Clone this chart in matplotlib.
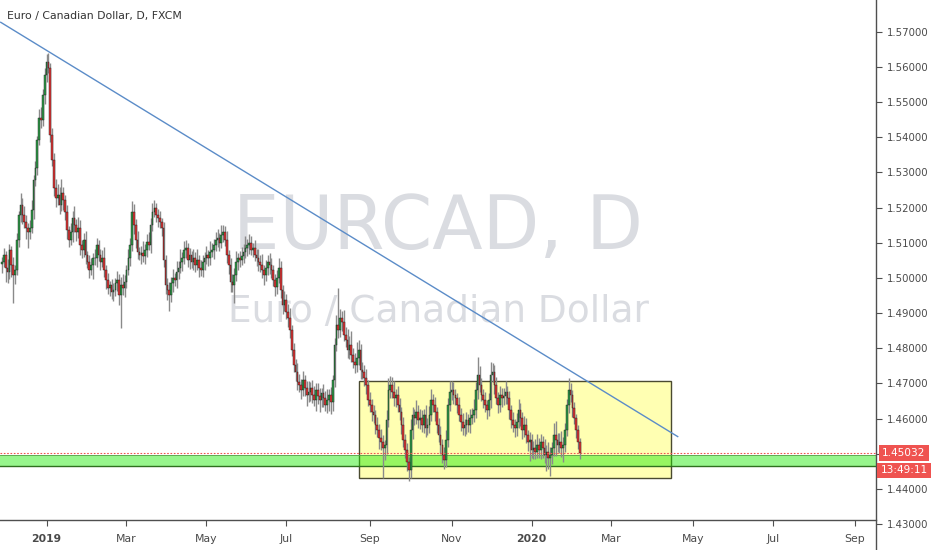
import numpy as np
import pandas as pd
import matplotlib
matplotlib.use("Agg")
import matplotlib.pyplot as plt
from matplotlib.patches import Rectangle
import matplotlib.transforms as mtransforms

# ---------------- data ----------------
start_date = "2018-11-28"
first_open = 1.5040
closes = [
    1.5046, 1.5065, 1.5028, 1.5017, 1.5080, 1.5037, 1.5009, 1.5023, 1.5108, 1.5179,
    1.5208, 1.5179, 1.5159, 1.5142, 1.5131, 1.5142, 1.5193, 1.5279, 1.5313, 1.5392,
    1.5455, 1.5449, 1.5520, 1.5577, 1.5614, 1.5597, 1.5407, 1.5336, 1.5256, 1.5227,
    1.5236, 1.5208, 1.5242, 1.5222, 1.5188, 1.5137, 1.5108, 1.5131, 1.5171, 1.5151,
    1.5131, 1.5142, 1.5094, 1.5080, 1.5108, 1.5065, 1.5046, 1.5023, 1.5037, 1.5057,
    1.5057, 1.5094, 1.5065, 1.5046, 1.5057, 1.5023, 1.4994, 1.4972, 1.4980, 1.4960,
    1.4966, 1.4986, 1.4994, 1.4952, 1.4980, 1.4972, 1.4989, 1.5023, 1.5057, 1.5094,
    1.5188, 1.5151, 1.5108, 1.5074, 1.5065, 1.5071, 1.5063, 1.5080, 1.5102, 1.5094,
    1.5151, 1.5188, 1.5199, 1.5179, 1.5171, 1.5159, 1.5142, 1.5051, 1.4980, 1.4966,
    1.4952, 1.4986, 1.5000, 1.4994, 1.5017, 1.5028, 1.5046, 1.5057, 1.5080, 1.5085,
    1.5051, 1.5065, 1.5046, 1.5057, 1.5037, 1.5051, 1.5028, 1.5023, 1.5046, 1.5057,
    1.5065, 1.5057, 1.5074, 1.5080, 1.5094, 1.5108, 1.5114, 1.5100, 1.5122, 1.5131,
    1.5108, 1.5065, 1.5037, 1.4989, 1.4980, 1.5009, 1.5046, 1.5057, 1.5051, 1.5063,
    1.5074, 1.5085, 1.5094, 1.5100, 1.5080, 1.5085, 1.5065, 1.5057, 1.5046, 1.5037,
    1.5023, 1.5009, 1.5028, 1.5046, 1.5037, 1.5023, 1.4994, 1.4974, 1.5000, 1.5028,
    1.4966, 1.4923, 1.4937, 1.4903, 1.4886, 1.4852, 1.4795, 1.4753, 1.4733, 1.4704,
    1.4696, 1.4682, 1.4710, 1.4687, 1.4667, 1.4676, 1.4687, 1.4667, 1.4653, 1.4682,
    1.4665, 1.4653, 1.4673, 1.4659, 1.4639, 1.4653, 1.4667, 1.4647, 1.4710, 1.4809,
    1.4866, 1.4852, 1.4886, 1.4875, 1.4838, 1.4824, 1.4795, 1.4809, 1.4781, 1.4761,
    1.4753, 1.4772, 1.4795, 1.4738, 1.4733, 1.4716, 1.4696, 1.4653, 1.4639, 1.4619,
    1.4610, 1.4582, 1.4568, 1.4545, 1.4534, 1.4517, 1.4525, 1.4596, 1.4682, 1.4696,
    1.4676, 1.4659, 1.4667, 1.4639, 1.4619, 1.4582, 1.4539, 1.4511, 1.4477, 1.4454,
    1.4568, 1.4610, 1.4602, 1.4619, 1.4596, 1.4602, 1.4582, 1.4610, 1.4574, 1.4582,
    1.4610, 1.4653, 1.4639, 1.4619, 1.4582, 1.4554, 1.4525, 1.4497, 1.4483, 1.4539,
    1.4639, 1.4676, 1.4682, 1.4667, 1.4659, 1.4639, 1.4610, 1.4591, 1.4574, 1.4582,
    1.4596, 1.4582, 1.4602, 1.4610, 1.4625, 1.4682, 1.4724, 1.4696, 1.4667, 1.4653,
    1.4639, 1.4625, 1.4653, 1.4724, 1.4733, 1.4696, 1.4659, 1.4639, 1.4667, 1.4659,
    1.4665, 1.4676, 1.4659, 1.4625, 1.4596, 1.4582, 1.4574, 1.4591, 1.4625, 1.4602,
    1.4568, 1.4582, 1.4554, 1.4534, 1.4539, 1.4511, 1.4517, 1.4505, 1.4525, 1.4511,
    1.4534, 1.4517, 1.4497, 1.4505, 1.4488, 1.4497, 1.4517, 1.4554, 1.4539, 1.4525,
    1.4534, 1.4517, 1.4525, 1.4568, 1.4639, 1.4682, 1.4667, 1.4630, 1.4602, 1.4568,
    1.4534, 1.45032,
]
upper_wick_pips = [
    15, 20, 12, 25, 18, 10, 22, 15, 20, 12,
    35, 18, 25, 20, 15, 22, 30, 15, 20, 12,
    25, 30, 18, 20, 22, 25, 15, 20, 18, 25,
    30, 22, 40, 18, 15, 20, 12, 25, 20, 35,
    18, 30, 22, 15, 20, 25, 12, 18, 20, 15,
    25, 20, 15, 18, 22, 30, 15, 20, 12, 18,
    20, 15, 25, 18, 22, 30, 20, 15, 25, 20,
    30, 22, 18, 25, 15, 20, 35, 18, 22, 30,
    20, 25, 22, 15, 18, 20, 12, 18, 15, 20,
    22, 18, 25, 15, 30, 20, 35, 18, 25, 22,
    15, 20, 12, 25, 18, 30, 15, 22, 20, 18,
    25, 15, 30, 20, 18, 22, 25, 15, 30, 20,
    18, 25, 15, 20, 22, 18, 30, 15, 20, 25,
    22, 35, 18, 25, 20, 15, 22, 18, 25, 20,
    30, 15, 22, 18, 25, 20, 15, 18, 22, 30,
    20, 15, 25, 18, 22, 30, 15, 20, 18, 25,
    22, 18, 25, 15, 20, 30, 18, 22, 25, 20,
    18, 22, 15, 25, 20, 30, 18, 22, 15, 20,
    30, 105, 25, 20, 35, 22, 30, 25, 40, 20,
    25, 45, 30, 18, 22, 20, 25, 15, 22, 18,
    20, 15, 22, 18, 25, 20, 15, 30, 35, 25,
    22, 30, 18, 25, 20, 15, 22, 18, 20, 15,
    30, 22, 18, 35, 20, 25, 22, 18, 30, 20,
    25, 30, 18, 22, 15, 20, 25, 18, 22, 30,
    20, 30, 25, 22, 18, 15, 22, 20, 25, 18,
    22, 18, 25, 20, 30, 22, 50, 25, 20, 18,
    22, 15, 20, 37, 25, 20, 22, 18, 25, 20,
    22, 30, 18, 20, 15, 22, 18, 25, 30, 20,
    18, 25, 20, 15, 22, 18, 20, 25, 30, 20,
    22, 18, 25, 20, 30, 22, 18, 35, 40, 20,
    25, 30, 22, 20, 18, 35, 20, 15, 18, 12,
    15, 10,
]
lower_wick_pips = [
    25, 15, 40, 30, 20, 35, 80, 25, 15, 20,
    20, 25, 18, 30, 45, 20, 15, 25, 18, 20,
    15, 22, 18, 25, 20, 15, 20, 18, 22, 25,
    20, 25, 18, 30, 22, 25, 20, 15, 28, 20,
    25, 18, 30, 22, 20, 25, 18, 22, 15, 40,
    20, 25, 18, 22, 15, 20, 25, 18, 22, 20,
    25, 18, 22, 30, 95, 20, 25, 18, 15, 22,
    18, 25, 22, 20, 15, 25, 18, 22, 20, 15,
    22, 18, 15, 20, 25, 18, 22, 20, 25, 30,
    45, 20, 25, 18, 22, 20, 15, 25, 18, 22,
    20, 25, 18, 22, 20, 15, 25, 18, 20, 22,
    18, 22, 20, 15, 25, 18, 20, 22, 15, 20,
    18, 22, 25, 30, 20, 50, 18, 22, 20, 15,
    20, 18, 22, 25, 15, 20, 18, 22, 25, 20,
    22, 30, 18, 20, 25, 22, 18, 25, 20, 15,
    22, 25, 18, 20, 25, 22, 18, 20, 25, 22,
    20, 25, 18, 22, 30, 20, 25, 22, 18, 30,
    22, 35, 20, 25, 18, 22, 30, 35, 25, 20,
    18, 22, 20, 25, 18, 20, 22, 25, 20, 18,
    22, 20, 18, 25, 20, 22, 25, 18, 20, 25,
    22, 25, 20, 30, 22, 85, 35, 25, 20, 22,
    18, 22, 25, 20, 22, 25, 20, 22, 25, 30,
    22, 25, 20, 18, 22, 25, 20, 22, 25, 20,
    22, 18, 20, 25, 22, 20, 25, 22, 25, 20,
    20, 18, 22, 25, 20, 22, 18, 25, 20, 22,
    25, 20, 22, 18, 20, 22, 25, 20, 18, 22,
    20, 25, 18, 22, 20, 25, 18, 22, 20, 25,
    20, 22, 18, 25, 22, 20, 25, 22, 18, 22,
    25, 20, 22, 25, 55, 22, 25, 20, 18, 22,
    25, 30, 22, 45, 30, 50, 25, 22, 45, 20,
    22, 25, 40, 20, 18, 22, 20, 25, 18, 22,
    20, 18,
]

trend_dates = ["2018-11-27", "2020-04-21"]
trend_prices = [1.5728, 1.4548]
box_dates = ["2019-08-23", "2020-04-15"]
box_prices = [1.4431, 1.4707]
zone_prices = [1.4465, 1.4496]
last_price = 1.45032
countdown = "13:49:11"
price_ticks = [1.43, 1.44, 1.45, 1.46, 1.47, 1.48, 1.49, 1.50,
               1.51, 1.52, 1.53, 1.54, 1.55, 1.56, 1.57]
month_ticks = ["2019-01-01", "2019-03-01", "2019-05-01", "2019-07-01",
               "2019-09-01", "2019-11-01", "2020-01-01", "2020-03-01",
               "2020-05-01", "2020-07-01", "2020-09-01"]
month_labels = ["2019", "Mar", "May", "Jul", "Sep", "Nov",
                "2020", "Mar", "May", "Jul", "Sep"]
title = "Euro / Canadian Dollar, D, FXCM"
wm_big = "EURCAD, D"
wm_small = "Euro / Canadian Dollar"

# ---------------- layout ----------------
W, H = 932, 550
PX_PER_BAR = 1.858
plot_right = 876
plot_bottom = 520
y_top_price = 1.57904
px_per_price = 3517.0

days = pd.bdate_range("2018-11-26", periods=520)


def xpos(d):
    return int(days.searchsorted(pd.Timestamp(d)))


fig = plt.figure(figsize=(W / 100, H / 100), dpi=100)
fig.patch.set_facecolor("white")
ax = fig.add_axes([0, (H - plot_bottom) / H, plot_right / W, plot_bottom / H])
ax.set_facecolor("white")

i0 = xpos(start_date)
n = len(closes)
xs = np.arange(i0, i0 + n)
c = np.array(closes)
o = np.concatenate([[first_open], c[:-1]])
hi = np.maximum(o, c) + np.array(upper_wick_pips) * 1e-4
lo = np.minimum(o, c) - np.array(lower_wick_pips) * 1e-4

ax.set_xlim(i0 - 2 / PX_PER_BAR, i0 + (plot_right - 2) / PX_PER_BAR)
ax.set_ylim(y_top_price - plot_bottom / px_per_price, y_top_price)

# watermark
wm_color = "#dadce1"
ax.text(0.5, 0.5615, wm_big, transform=ax.transAxes, ha="center", va="center",
        fontsize=53, color=wm_color, zorder=0, family="DejaVu Sans")
ax.text(0.5, 0.40, wm_small, transform=ax.transAxes, ha="center", va="center",
        fontsize=27, color=wm_color, zorder=0, family="DejaVu Sans")

# yellow box
bx0, bx1 = xpos(box_dates[0]), xpos(box_dates[1])
ax.add_patch(Rectangle((bx0, box_prices[0]), bx1 - bx0, box_prices[1] - box_prices[0],
                       facecolor=(1.0, 1.0, 0.0, 0.30), edgecolor="#4a4a30",
                       linewidth=1.0, zorder=1))
# green zone
ax.axhspan(zone_prices[0], zone_prices[1], facecolor=(0.1, 0.92, 0.0, 0.45),
           edgecolor="none", zorder=2)
ax.axhline(zone_prices[0], color="#2f6f1f", lw=1.0, zorder=2)
ax.axhline(zone_prices[1], color="#58a048", lw=0.6, zorder=2)

# candles
up = c >= o
ax.vlines(xs, lo, hi, color="#8a8a8a", lw=1.0, zorder=3)
body_h = np.maximum(np.abs(c - o), 0.00006)
ax.bar(xs[up], body_h[up], bottom=np.minimum(o, c)[up], width=0.9,
       color="#2f9a48", edgecolor="#1a1a1a", linewidth=0.3, zorder=4)
ax.bar(xs[~up], body_h[~up], bottom=np.minimum(o, c)[~up], width=0.9,
       color="#e03535", edgecolor="#1a1a1a", linewidth=0.3, zorder=4)

# current price line
ax.axhline(last_price, color="#ef5350", lw=0.8, ls=(0, (1.5, 1.5)), zorder=5)

# trend line
ax.plot([xpos(d) for d in trend_dates], trend_prices, color="#5b8cc8",
        lw=1.0, zorder=6, solid_capstyle="butt")

# title
ax.text(7 / plot_right, 1 - 16 / plot_bottom, title, transform=ax.transAxes,
        ha="left", va="center", fontsize=7.8, color="#333333", zorder=7)

# bottom axis
for s in ["top", "left", "right"]:
    ax.spines[s].set_visible(False)
ax.spines["bottom"].set_color("#4f4f4f")
ax.spines["bottom"].set_linewidth(1.0)
ax.set_yticks([])
ax.set_xticks([xpos(d) for d in month_ticks])
ax.set_xticklabels(month_labels)
ax.tick_params(axis="x", direction="out", length=4, width=0.8, color="#4f4f4f",
               labelsize=7.8, labelcolor="#4a4a4a", pad=6)
for lab in ax.get_xticklabels():
    if lab.get_text() in ("2019", "2020"):
        lab.set_fontweight("bold")

# price axis
axp = fig.add_axes([plot_right / W, 0, 0.0001, 1])
axp.set_ylim(y_top_price - H / px_per_price, y_top_price)
axp.set_xticks([])
for s in ["top", "left", "bottom"]:
    axp.spines[s].set_visible(False)
axp.spines["right"].set_color("#4f4f4f")
axp.spines["right"].set_linewidth(1.0)
axp.yaxis.tick_right()
axp.set_yticks(price_ticks)
# the tick label hidden behind the last-price tag is not drawn
axp.set_yticklabels(["" if abs(p - last_price) < 0.002 else f"{p:.5f}"
                     for p in price_ticks])
axp.tick_params(axis="y", direction="out", length=4, width=0.8, color="#4f4f4f",
                labelsize=7.3, labelcolor="#4a4a4a", pad=4)

blend = mtransforms.blended_transform_factory(fig.transFigure, axp.transData)
xc = (plot_right + W) / 2 / W
axp.text(xc, last_price, f"{last_price:.5f}", transform=blend, ha="center",
         va="center", fontsize=7.6, color="white", zorder=10,
         bbox=dict(boxstyle="square,pad=0.28", fc="#ef5350", ec="none"))
axp.annotate(countdown, xy=(xc, last_price), xycoords=blend,
             xytext=(0, -12.8), textcoords="offset points", ha="center",
             va="center", fontsize=7.6, color="white", zorder=10,
             bbox=dict(boxstyle="square,pad=0.28", fc="#ef5350", ec="none"),
             annotation_clip=False)

fig.savefig("out.png", dpi=100, facecolor="white")
